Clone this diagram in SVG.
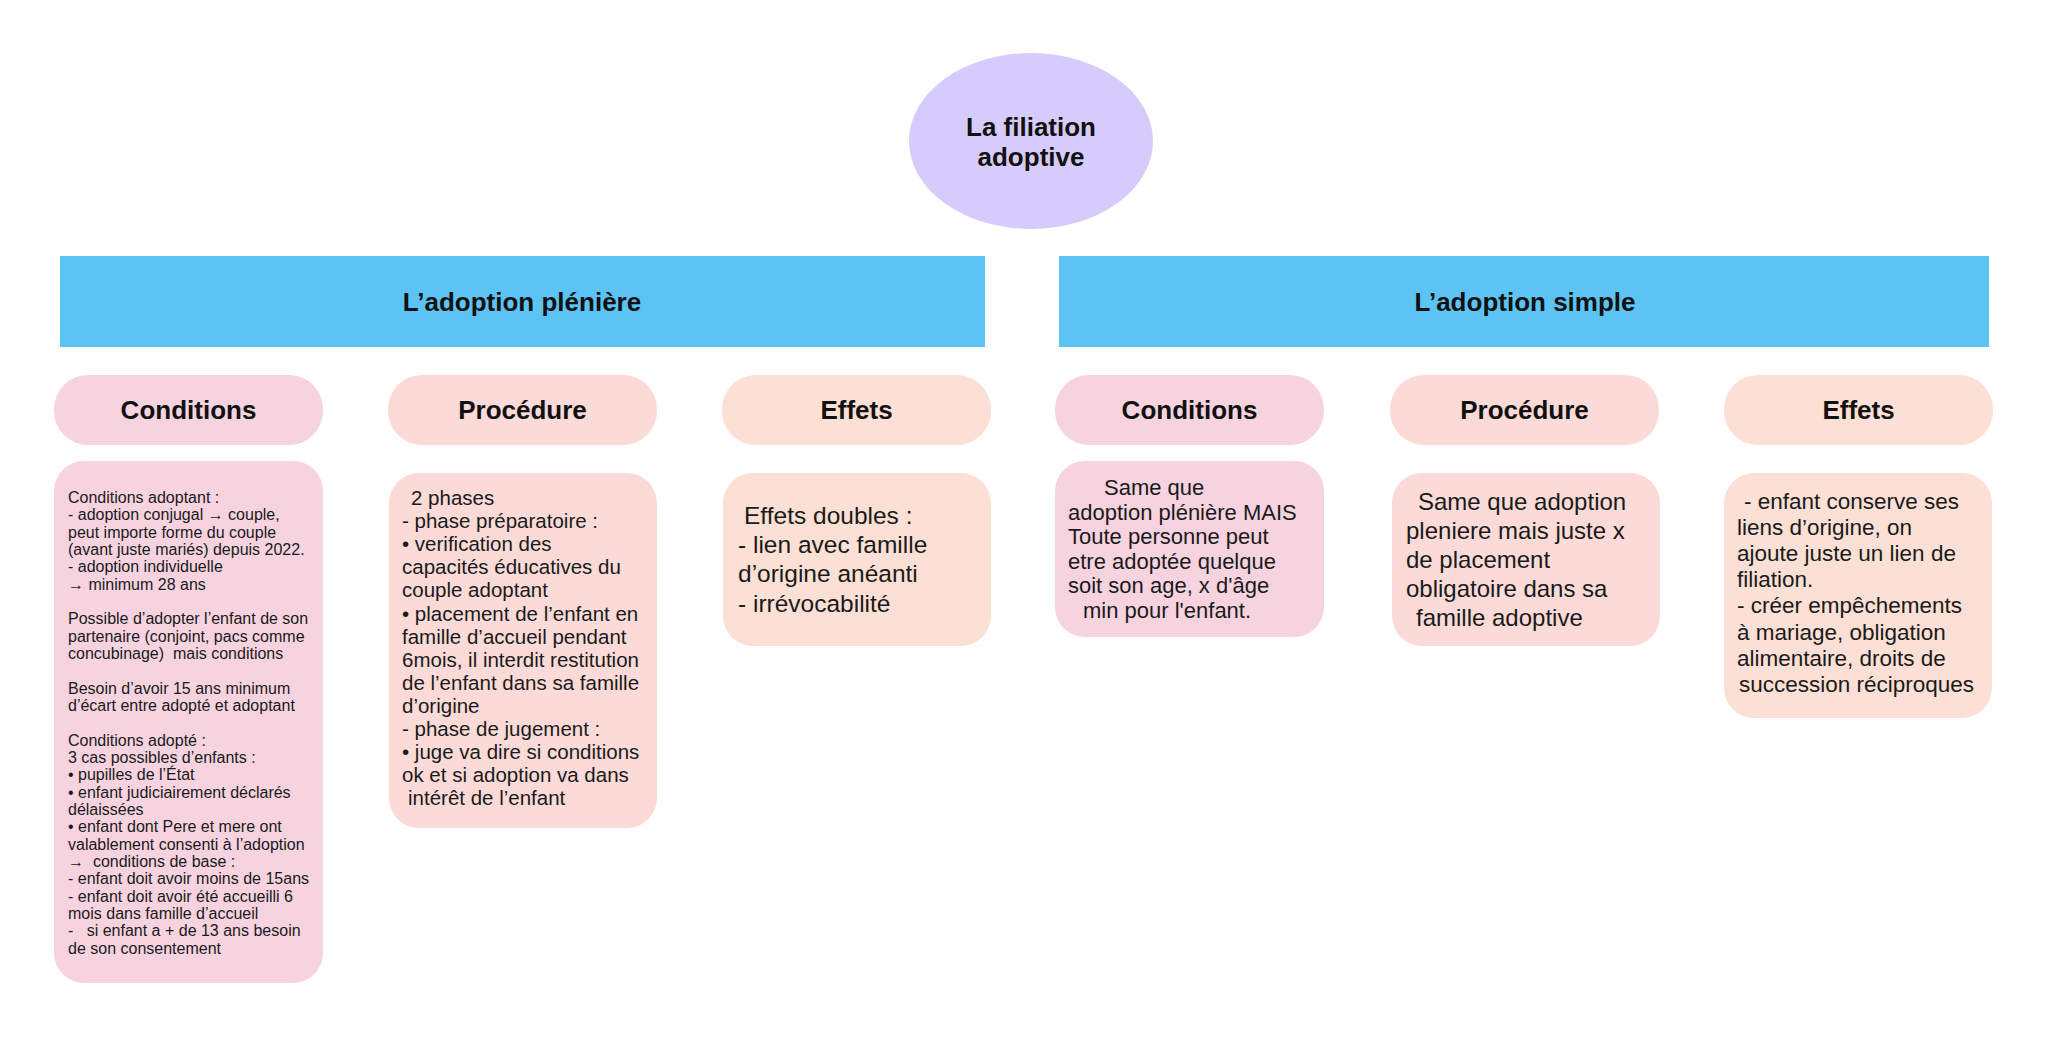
<svg xmlns="http://www.w3.org/2000/svg" width="2048" height="1038" viewBox="0 0 2048 1038">
<style>
.h{font-family:"Liberation Sans",Arial,sans-serif;font-weight:bold;font-size:26px;fill:#111;text-anchor:middle}
.t{font-family:"Liberation Sans",Arial,sans-serif;fill:#1a1a1a}
.bar{fill:#5BC4F4}
.cond{fill:#F7D3E0}
.proc{fill:#FBDAD7}
.eff{fill:#FCE0D5}
</style>
<rect width="2048" height="1038" fill="#ffffff"/>
<g id="connectors"></g>
<g id="root">
<ellipse cx="1031" cy="141" rx="122" ry="88" fill="#D5CCFB"/>
<text class="h" x="1031" y="136">La filiation</text>
<text class="h" x="1031" y="166">adoptive</text>
</g>
<g id="pleniere">
<rect class="bar" x="60" y="256" width="925" height="91"/>
<text class="h" x="522" y="311">L’adoption plénière</text>
</g>
<g id="simple">
<rect class="bar" x="1059" y="256" width="930" height="91"/>
<text class="h" x="1525" y="311">L’adoption simple</text>
</g>
<g id="pl-conditions">
<rect class="cond" x="54" y="375" width="269" height="70" rx="34"/>
<text class="h" x="188.5" y="419">Conditions</text>
</g>
<g id="pl-procedure">
<rect class="proc" x="388" y="375" width="269" height="70" rx="34"/>
<text class="h" x="522.5" y="419">Procédure</text>
</g>
<g id="pl-effets">
<rect class="eff" x="722" y="375" width="269" height="70" rx="34"/>
<text class="h" x="856.5" y="419">Effets</text>
</g>
<g id="si-conditions">
<rect class="cond" x="1055" y="375" width="269" height="70" rx="34"/>
<text class="h" x="1189.5" y="419">Conditions</text>
</g>
<g id="si-procedure">
<rect class="proc" x="1390" y="375" width="269" height="70" rx="34"/>
<text class="h" x="1524.5" y="419">Procédure</text>
</g>
<g id="si-effets">
<rect class="eff" x="1724" y="375" width="269" height="70" rx="34"/>
<text class="h" x="1858.5" y="419">Effets</text>
</g>
<g id="pl-conditions-text">
<rect class="cond" x="54" y="461" width="269" height="522" rx="30"/>
<text class="t" font-size="16" x="68" y="503">
<tspan x="68">Conditions adoptant :</tspan>
<tspan x="68" dy="17.33">- adoption conjugal → couple,</tspan>
<tspan x="68" dy="17.33">peut importe forme du couple</tspan>
<tspan x="68" dy="17.33">(avant juste mariés) depuis 2022.</tspan>
<tspan x="68" dy="17.33">- adoption individuelle</tspan>
<tspan x="68" dy="17.33">→ minimum 28 ans</tspan>
<tspan x="68" dy="34.66">Possible d’adopter l’enfant de son</tspan>
<tspan x="68" dy="17.33">partenaire (conjoint, pacs comme</tspan>
<tspan x="68" dy="17.33">concubinage)&#160; mais conditions</tspan>
<tspan x="68" dy="34.66">Besoin d’avoir 15 ans minimum</tspan>
<tspan x="68" dy="17.33">d’écart entre adopté et adoptant</tspan>
<tspan x="68" dy="34.66">Conditions adopté :</tspan>
<tspan x="68" dy="17.33">3 cas possibles d’enfants :</tspan>
<tspan x="68" dy="17.33">• pupilles de l’État</tspan>
<tspan x="68" dy="17.33">• enfant judiciairement déclarés</tspan>
<tspan x="68" dy="17.33">délaissées</tspan>
<tspan x="68" dy="17.33">• enfant dont Pere et mere ont</tspan>
<tspan x="68" dy="17.33">valablement consenti à l’adoption</tspan>
<tspan x="68" dy="17.33">→&#160; conditions de base :</tspan>
<tspan x="68" dy="17.33">- enfant doit avoir moins de 15ans</tspan>
<tspan x="68" dy="17.33">- enfant doit avoir été accueilli 6</tspan>
<tspan x="68" dy="17.33">mois dans famille d’accueil</tspan>
<tspan x="68" dy="17.33">-&#160;&#160; si enfant a + de 13 ans besoin</tspan>
<tspan x="68" dy="17.33">de son consentement</tspan>
</text>
</g>
<g id="pl-procedure-text">
<rect class="proc" x="389" y="473" width="268" height="355" rx="30"/>
<text class="t" font-size="20.5" x="402" y="505">
<tspan x="411">2 phases</tspan>
<tspan x="402" dy="23.1">- phase préparatoire :</tspan>
<tspan x="402" dy="23.1">• verification des</tspan>
<tspan x="402" dy="23.1">capacités éducatives du</tspan>
<tspan x="402" dy="23.1">couple adoptant</tspan>
<tspan x="402" dy="23.1">• placement de l’enfant en</tspan>
<tspan x="402" dy="23.1">famille d’accueil pendant</tspan>
<tspan x="402" dy="23.1">6mois, il interdit restitution</tspan>
<tspan x="402" dy="23.1">de l’enfant dans sa famille</tspan>
<tspan x="402" dy="23.1">d’origine</tspan>
<tspan x="402" dy="23.1">- phase de jugement :</tspan>
<tspan x="402" dy="23.1">• juge va dire si conditions</tspan>
<tspan x="402" dy="23.1">ok et si adoption va dans</tspan>
<tspan x="408" dy="23.1">intérêt de l’enfant</tspan>
</text>
</g>
<g id="pl-effets-text">
<rect class="eff" x="723" y="473" width="268" height="173" rx="30"/>
<text class="t" font-size="24.5" x="738" y="524">
<tspan x="744">Effets doubles :</tspan>
<tspan x="738" dy="29.2">- lien avec famille</tspan>
<tspan x="738" dy="29.2">d’origine anéanti</tspan>
<tspan x="738" dy="29.2">- irrévocabilité</tspan>
</text>
</g>
<g id="si-conditions-text">
<rect class="cond" x="1055" y="461" width="269" height="176" rx="30"/>
<text class="t" font-size="22" x="1068" y="495">
<tspan x="1104">Same que</tspan>
<tspan x="1068" dy="24.5">adoption plénière MAIS</tspan>
<tspan x="1068" dy="24.5">Toute personne peut</tspan>
<tspan x="1068" dy="24.5">etre adoptée quelque</tspan>
<tspan x="1068" dy="24.5">soit son age, x d'âge</tspan>
<tspan x="1083" dy="24.5">min pour l'enfant.</tspan>
</text>
</g>
<g id="si-procedure-text">
<rect class="proc" x="1392" y="473" width="268" height="173" rx="30"/>
<text class="t" font-size="24" x="1406" y="510">
<tspan x="1418">Same que adoption</tspan>
<tspan x="1406" dy="29">pleniere mais juste x</tspan>
<tspan x="1406" dy="29">de placement</tspan>
<tspan x="1406" dy="29">obligatoire dans sa</tspan>
<tspan x="1416" dy="29">famille adoptive</tspan>
</text>
</g>
<g id="si-effets-text">
<rect class="eff" x="1724" y="473" width="268" height="245" rx="30"/>
<text class="t" font-size="22.5" x="1737" y="509">
<tspan x="1744">- enfant conserve ses</tspan>
<tspan x="1737" dy="26.1">liens d’origine, on</tspan>
<tspan x="1737" dy="26.1">ajoute juste un lien de</tspan>
<tspan x="1737" dy="26.1">filiation.</tspan>
<tspan x="1737" dy="26.1">- créer empêchements</tspan>
<tspan x="1737" dy="26.1">à mariage, obligation</tspan>
<tspan x="1737" dy="26.1">alimentaire, droits de</tspan>
<tspan x="1739" dy="26.1">succession réciproques</tspan>
</text>
</g>
</svg>
